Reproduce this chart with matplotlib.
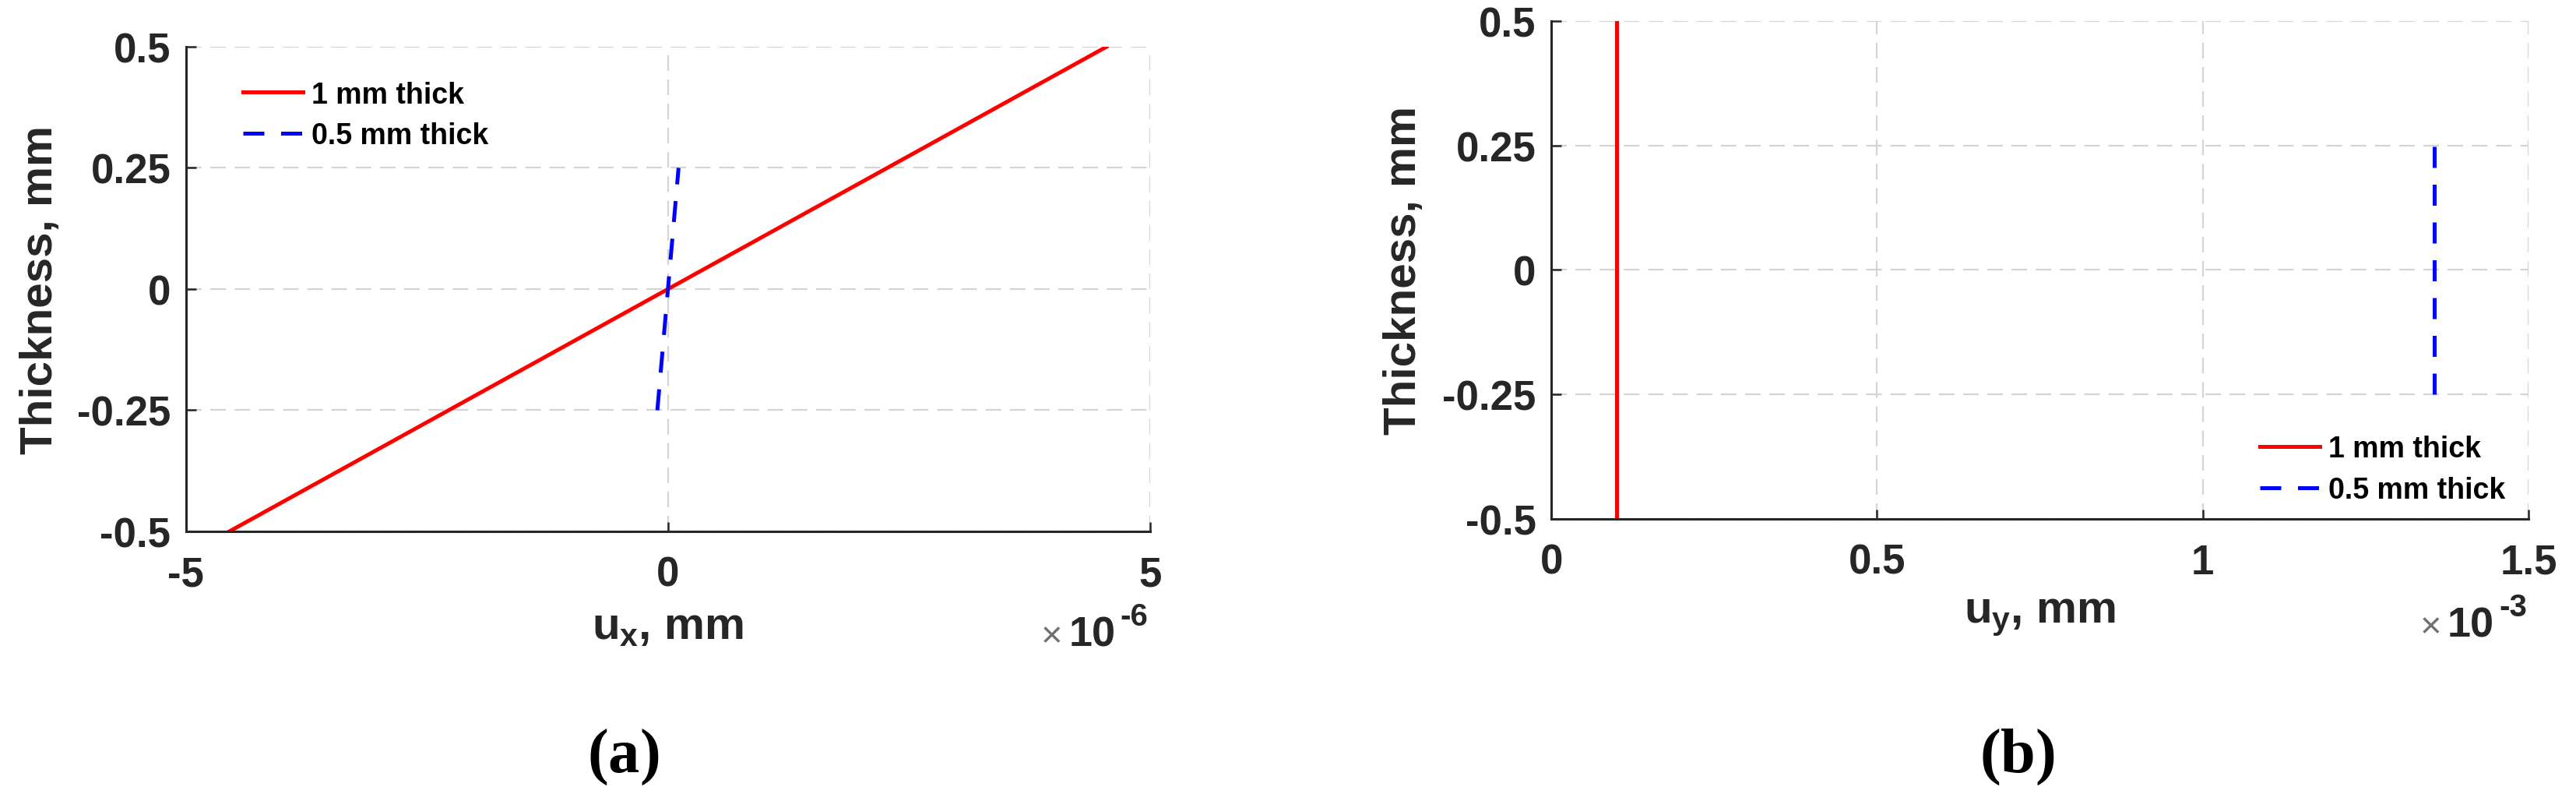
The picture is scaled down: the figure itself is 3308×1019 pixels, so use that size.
import matplotlib
matplotlib.use("Agg")
import matplotlib.pyplot as plt
from matplotlib.ticker import FixedLocator, FuncFormatter
from matplotlib.transforms import offset_copy

# panel (a): u_x through the thickness
ux_1mm = [-4.55e-6, 4.55e-6]
z_1mm = [-0.5, 0.5]
ux_05mm = [-0.11e-6, 0.11e-6]
z_05mm = [-0.25, 0.25]

# panel (b): u_y through the thickness
uy_1mm = [0.1e-3, 0.1e-3]
uy_05mm = [1.355e-3, 1.355e-3]

labels = ["1 mm thick", "0.5 mm thick"]
y_ticks = [-0.5, -0.25, 0, 0.25, 0.5]
xa_ticks = [-5e-6, 0, 5e-6]
xb_ticks = [0, 0.5e-3, 1e-3, 1.5e-3]

AX_COLOR = "#262626"
GRID_COLOR = "#d4d4d4"

plt.rcParams["font.family"] = ["Liberation Sans", "DejaVu Sans"]
plt.rcParams["font.weight"] = "bold"
plt.rcParams["axes.unicode_minus"] = False
plt.rcParams["mathtext.fontset"] = "custom"
plt.rcParams["mathtext.rm"] = "Liberation Sans:bold"
plt.rcParams["mathtext.it"] = "Liberation Sans:bold"
plt.rcParams["mathtext.bf"] = "Liberation Serif:bold"
plt.rcParams["mathtext.sf"] = "Liberation Serif"


def fmt(v):
    s = "%g" % round(v, 6)
    return "0" if s == "-0" else s


def add_exponent(ax, exponent):
    # MATLAB style "x10^-n" under the right end of the x axis
    fig = ax.figure
    base_y = -0.236
    t = offset_copy(ax.transAxes, fig=fig, x=-2, y=27, units="dots")
    ax.text(1.0, base_y, exponent, transform=t, ha="right", va="baseline",
            fontsize=29, color=AX_COLOR)
    t = offset_copy(ax.transAxes, fig=fig, x=-44, y=0, units="dots")
    ax.text(1.0, base_y, "10", transform=t, ha="right", va="baseline",
            fontsize=39, color=AX_COLOR)
    t = offset_copy(ax.transAxes, fig=fig, x=-112, y=0, units="dots")
    ax.text(1.0, base_y, "\u00d7", transform=t, ha="right", va="baseline",
            fontsize=34, fontweight="normal", color="#707070")


def style_axes(ax, xticks, scale, xlim, xlabel, exponent, legend_loc, legend_anchor):
    ax.set_xlim(*xlim)
    ax.set_ylim(-0.5, 0.5)
    ax.xaxis.set_major_locator(FixedLocator(xticks))
    ax.yaxis.set_major_locator(FixedLocator(y_ticks))
    ax.xaxis.set_major_formatter(FuncFormatter(lambda v, p: fmt(v / scale)))
    ax.yaxis.set_major_formatter(FuncFormatter(lambda v, p: fmt(v)))

    for side in ["top", "right"]:
        ax.spines[side].set_visible(False)
    for side in ["left", "bottom"]:
        ax.spines[side].set_linewidth(2.2)
        ax.spines[side].set_color(AX_COLOR)
        ax.spines[side].set_zorder(5)

    ax.tick_params(direction="in", length=9, width=1.8, color=AX_COLOR,
                   labelsize=38, labelcolor=AX_COLOR)
    ax.tick_params(axis="x", pad=22)
    ax.tick_params(axis="y", pad=14)
    for lab in ax.get_xticklabels() + ax.get_yticklabels():
        lab.set_fontweight("bold")

    ax.grid(True, color=GRID_COLOR, linewidth=1.6, linestyle=(0, (9, 5)))
    ax.set_axisbelow(True)

    ax.set_ylabel("Thickness, mm", fontsize=42, fontweight="bold", color=AX_COLOR)
    ax.yaxis.set_label_coords(-0.129, 0.5)
    ax.set_xlabel(xlabel, fontsize=42, fontweight="bold", color=AX_COLOR)
    ax.xaxis.set_label_coords(0.5, -0.152)

    add_exponent(ax, exponent)

    ax.legend(loc=legend_loc, bbox_to_anchor=legend_anchor, frameon=False,
              fontsize=27, handlelength=2.05, handletextpad=0.3,
              labelspacing=0.45, borderpad=0, borderaxespad=0)


def main():
    fig = plt.figure(figsize=(33.08, 10.20), dpi=100)
    ax_a = fig.add_axes([0.0722, 0.3304, 0.3742, 0.6098])
    ax_b = fig.add_axes([0.6022, 0.3461, 0.3794, 0.6265])

    line_kw = dict(linewidth=3.6)
    dash = (5.4, 4.3)

    ax_a.plot(ux_1mm, z_1mm, color="#ff0000", label=labels[0], **line_kw)
    ax_a.plot(ux_05mm, z_05mm, color="#0000ff", dashes=dash, label=labels[1], **line_kw)
    style_axes(ax_a, xa_ticks, 1e-6, (-5e-6, 5e-6), r"$u_x$, mm", "-6",
               "upper left", (0.059, 0.93))

    ax_b.plot(uy_1mm, z_1mm, color="#ff0000", label=labels[0], **line_kw)
    ax_b.plot(uy_05mm, z_05mm, color="#0000ff", dashes=dash, label=labels[1], **line_kw)
    style_axes(ax_b, xb_ticks, 1e-3, (0, 1.5e-3), r"$u_y$, mm", "-3",
               "lower right", (0.976, 0.030))

    fig.text(0.2418, 0.029, r"$\mathsf{(}\mathbf{a}\mathsf{)}$", fontsize=58,
             ha="center", va="baseline", color="black")
    fig.text(0.783, 0.029, r"$\mathsf{(}\mathbf{b}\mathsf{)}$", fontsize=58,
             ha="center", va="baseline", color="black")

    fig.savefig("out.png", dpi=100)


if __name__ == "__main__":
    main()
